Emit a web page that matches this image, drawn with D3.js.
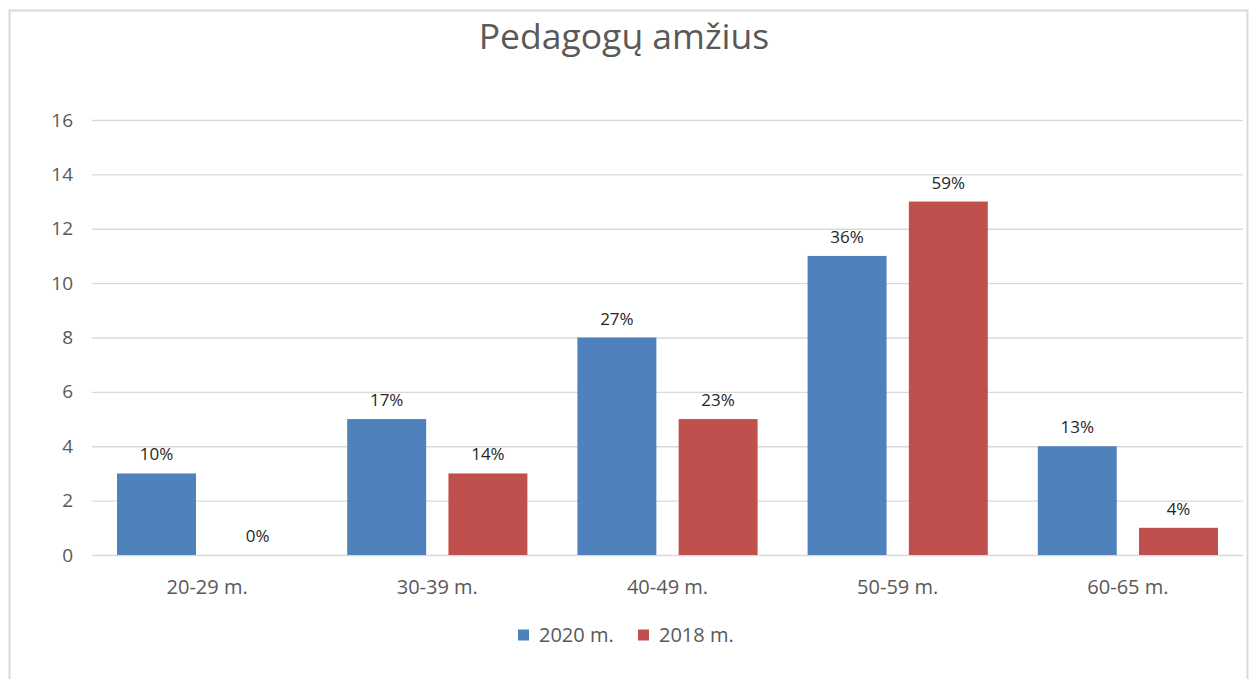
<!DOCTYPE html>
<html>
<head>
<meta charset="utf-8">
<script src="https://cdn.jsdelivr.net/npm/d3@7"></script>
<style>
    body { margin: 0; background: #fff; }
    text { font-family: "Open Sans", "Noto Sans", sans-serif; }
</style>
</head>
<body>
<div id="chart"></div>
<script>
const categories = ["20-29 m.", "30-39 m.", "40-49 m.", "50-59 m.", "60-65 m."];
const seriesNames = ["2020 m.", "2018 m."];
const values2020 = [3, 5, 8, 11, 4];
const values2018 = [0, 3, 5, 13, 1];
const labels2020 = ["10%", "17%", "27%", "36%", "13%"];
const labels2018 = ["0%", "14%", "23%", "59%", "4%"];
const yTicks = [0, 2, 4, 6, 8, 10, 12, 14, 16];

const colors = ["#4f81bd", "#c0504d"];

const width = 1251, height = 679;
const margin = {top: 120, right: 8, bottom: 124, left: 92};
const plotW = width - margin.left - margin.right;
const plotH = height - margin.top - margin.bottom;

const svg = d3.select('#chart')
    .append('svg')
    .attr('width', width)
    .attr('height', height);

// Outer frame
svg.append('rect')
    .attr('x', 9.5).attr('y', 10.5)
    .attr('width', 1238).attr('height', 700)
    .attr('fill', '#fff')
    .attr('stroke', '#d9d9d9')
    .attr('stroke-width', 2);

// Title
svg.append('text')
    .attr('x', 624).attr('y', 49)
    .attr('text-anchor', 'middle')
    .style('font-size', '35.5px')
    .style('fill', '#595959')
    .text('Pedagogų amžius');

const g = svg.append('g')
    .attr('transform', `translate(${margin.left},${margin.top})`);

// Scales
const xScale = d3.scaleBand()
    .domain(categories)
    .range([0, plotW]);

const xInner = d3.scaleBand()
    .domain(seriesNames)
    .range([25, xScale.bandwidth() - 25])
    .paddingInner(0.22);

const yScale = d3.scaleLinear()
    .domain([0, 16])
    .range([plotH, 0]);

// Gridlines + y labels
const yAxis = g.append('g')
    .call(d3.axisLeft(yScale).tickValues(yTicks).tickSize(-plotW).tickPadding(19));
yAxis.select('.domain').remove();
yAxis.selectAll('.tick line').attr('stroke', '#d9d9d9').attr('stroke-width', 1.3);
yAxis.selectAll('.tick text')
    .style('font-size', '19px')
    .style('fill', '#595959');

// x labels
const xAxis = g.append('g')
    .attr('transform', `translate(0,${plotH})`)
    .call(d3.axisBottom(xScale).tickSize(0).tickPadding(25));
xAxis.select('.domain').remove();
xAxis.selectAll('.tick text')
    .style('font-size', '20px')
    .style('fill', '#595959');

// Bars
const series = [
    {name: seriesNames[0], values: values2020, labels: labels2020, color: colors[0]},
    {name: seriesNames[1], values: values2018, labels: labels2018, color: colors[1]}
];

series.forEach(s => {
    const data = categories.map((c, i) => ({cat: c, v: s.values[i], label: s.labels[i]}));
    g.selectAll(null)
        .data(data)
        .enter().append('rect')
        .attr('x', d => xScale(d.cat) + xInner(s.name))
        .attr('width', xInner.bandwidth())
        .attr('y', d => yScale(d.v))
        .attr('height', d => plotH - yScale(d.v))
        .style('fill', s.color);

    // data labels
    g.selectAll(null)
        .data(data)
        .enter().append('text')
        .attr('x', d => xScale(d.cat) + xInner(s.name) + xInner.bandwidth() / 2)
        .attr('y', d => yScale(d.v) - 13)
        .attr('text-anchor', 'middle')
        .style('font-size', '17px')
        .style('fill', '#262626')
        .text(d => d.label);
});

// Legend
const legend = svg.append('g').attr('transform', 'translate(518,635)');
const legendX = [0, 120];
series.forEach((s, i) => {
    legend.append('rect')
        .attr('x', legendX[i]).attr('y', -5.5)
        .attr('width', 11).attr('height', 11)
        .style('fill', s.color);
    legend.append('text')
        .attr('x', legendX[i] + 21).attr('y', 7)
        .style('font-size', '20px')
        .style('fill', '#595959')
        .text(s.name);
});
</script>
</body>
</html>
